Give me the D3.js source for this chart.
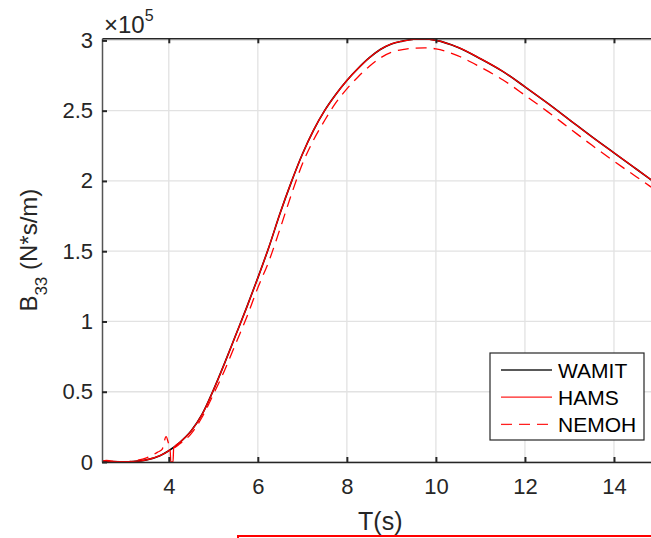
<!DOCTYPE html>
<html>
<head>
<meta charset="utf-8">
<script src="https://cdn.jsdelivr.net/npm/d3@7"></script>
<style>
  body { margin: 0; background: #fff; }
  svg { display: block; font-family: 'Liberation Sans', Arial, sans-serif; }
</style>
</head>
<body>
<div id="chart"></div>
<script>
// Period (s) and damping B33 (N*s/m)
const wamitT = [2.5, 3.0, 3.2, 3.5, 3.8, 4.0, 4.25, 4.5, 4.75, 5.0, 5.25, 5.5, 5.75, 6.0, 6.25, 6.5, 6.75, 7.0, 7.25, 7.5, 7.75, 8.0, 8.25, 8.5, 8.75, 9.0, 9.25, 9.5, 9.75, 10, 10.5, 11, 11.5, 12, 12.5, 13, 13.5, 14, 14.5, 15];
const wamitB = [0.005, 0.002, 0.004, 0.015, 0.045, 0.08, 0.14, 0.22, 0.34, 0.51, 0.70, 0.90, 1.10, 1.31, 1.53, 1.77, 1.99, 2.19, 2.36, 2.50, 2.615, 2.715, 2.80, 2.875, 2.935, 2.975, 2.995, 3.008, 3.01, 3.0, 2.95, 2.87, 2.78, 2.67, 2.555, 2.435, 2.315, 2.20, 2.085, 1.97];

const hamsT = [2.5, 2.6, 2.7, 3.0, 3.2, 3.5, 3.8, 4.0, 4.03, 4.045, 4.095, 4.11, 4.25, 4.5, 4.75, 5.0, 5.25, 5.5, 5.75, 6.0, 6.25, 6.5, 6.75, 7.0, 7.25, 7.5, 7.75, 8.0, 8.25, 8.5, 8.75, 9.0, 9.25, 9.5, 9.75, 10, 10.5, 11, 11.5, 12, 12.5, 13, 13.5, 14, 14.5, 15];
const hamsB = [0.008, 0.012, 0.006, 0.002, 0.004, 0.015, 0.045, 0.08, 0.088, 0.0, 0.0, 0.10, 0.14, 0.22, 0.34, 0.51, 0.70, 0.90, 1.10, 1.31, 1.53, 1.77, 1.99, 2.19, 2.36, 2.50, 2.615, 2.715, 2.80, 2.875, 2.935, 2.975, 2.995, 3.008, 3.01, 3.0, 2.95, 2.87, 2.78, 2.67, 2.555, 2.435, 2.315, 2.20, 2.085, 1.97];

const nemohT = [2.5, 2.75, 3.0, 3.25, 3.5, 3.75, 3.85, 3.94, 4.0, 4.1, 4.25, 4.5, 4.75, 5.0, 5.25, 5.5, 5.75, 6.0, 6.25, 6.5, 6.75, 7.0, 7.25, 7.5, 7.75, 8.0, 8.25, 8.5, 8.75, 9.0, 9.25, 9.5, 9.75, 10, 10.5, 11, 11.5, 12, 12.5, 13, 13.5, 14, 14.5, 15];
const nemohB = [0.008, 0.004, 0.0, 0.01, 0.03, 0.07, 0.09, 0.18, 0.13, 0.10, 0.13, 0.20, 0.32, 0.48, 0.65, 0.84, 1.03, 1.24, 1.43, 1.66, 1.90, 2.12, 2.29, 2.43, 2.555, 2.655, 2.74, 2.815, 2.875, 2.915, 2.935, 2.945, 2.947, 2.94, 2.89, 2.81, 2.72, 2.61, 2.495, 2.375, 2.255, 2.14, 2.03, 1.92];

const xTicks = [4, 6, 8, 10, 12, 14];
const yTicks = [0, 0.5, 1, 1.5, 2, 2.5, 3];
const seriesNames = ['WAMIT', 'HAMS', 'NEMOH'];

const width = 651;
const height = 538;
const plot = { left: 102, right: 658.5, top: 38.3, bottom: 462 };
const axisColor = '#262626';

const svg = d3
  .select('#chart')
  .append('svg')
  .attr('width', width)
  .attr('height', height);

// Scales
let x = d3.scaleLinear().domain([2.5, 15]).range([plot.left, plot.right]);
let y = d3.scaleLinear().domain([0, 3.015e5]).range([plot.bottom, plot.top]);

// Grid
let grid = svg.append('g').attr('class', 'grid');
grid
  .selectAll('.vgrid')
  .data(xTicks)
  .enter()
  .append('line')
  .attr('x1', (d) => x(d))
  .attr('x2', (d) => x(d))
  .attr('y1', plot.top)
  .attr('y2', plot.bottom)
  .attr('stroke', '#e2e2e2')
  .attr('stroke-width', 1.3);
grid
  .selectAll('.hgrid')
  .data(yTicks)
  .enter()
  .append('line')
  .attr('x1', plot.left)
  .attr('x2', plot.right)
  .attr('y1', (d) => y(d * 1e5))
  .attr('y2', (d) => y(d * 1e5))
  .attr('stroke', '#e2e2e2')
  .attr('stroke-width', 1.3);

// Lines
let line = d3
  .line()
  .x((d) => x(d[0]))
  .y((d) => y(d[1] * 1e5))
  .curve(d3.curveMonotoneX);

const zip = (a, b) => a.map((t, i) => [t, b[i]]);

svg
  .append('path')
  .attr('d', line(zip(wamitT, wamitB)))
  .attr('fill', 'none')
  .attr('stroke', '#000')
  .attr('stroke-width', 1.6);

svg
  .append('path')
  .attr('d', line(zip(nemohT, nemohB)))
  .attr('fill', 'none')
  .attr('stroke', '#ff0000')
  .attr('stroke-width', 1.3)
  .attr('stroke-dasharray', '11,7');

svg
  .append('path')
  .attr('d', line(zip(hamsT, hamsB)))
  .attr('fill', 'none')
  .attr('stroke', '#ff0000')
  .attr('stroke-width', 1.3);

// Axes (ticks point inward, like MATLAB)
let yAxis = svg
  .append('g')
  .attr('transform', `translate(${plot.left},0)`)
  .call(
    d3
      .axisLeft(y)
      .tickValues(yTicks.map((d) => d * 1e5))
      .tickFormat((d) => String(d / 1e5))
      .tickSizeInner(-5)
      .tickSizeOuter(0)
      .tickPadding(9)
  );

let xAxis = svg
  .append('g')
  .attr('transform', `translate(0,${plot.bottom})`)
  .call(
    d3
      .axisBottom(x)
      .tickValues(xTicks)
      .tickSizeInner(-5)
      .tickSizeOuter(0)
      .tickPadding(16)
  );

let topAxis = svg
  .append('g')
  .attr('transform', `translate(0,${plot.top})`)
  .call(
    d3
      .axisTop(x)
      .tickValues(xTicks)
      .tickFormat('')
      .tickSizeInner(-5)
      .tickSizeOuter(0)
  );

[xAxis, yAxis, topAxis].forEach((ax) => {
  ax.select('.domain').attr('stroke', axisColor).attr('stroke-width', 1.5);
  ax.selectAll('.tick line').attr('stroke', axisColor).attr('stroke-width', 2);
  ax.selectAll('.tick text')
    .attr('fill', axisColor)
    .style('font-size', '22px')
    .style('font-family', "'Liberation Sans', Arial, sans-serif");
});
yAxis.select('.domain').attr('stroke', '#555');

// Exponent label
let expo = svg
  .append('text')
  .attr('x', 104)
  .attr('y', 33)
  .attr('fill', axisColor)
  .style('font-size', '24px');
expo.append('tspan').text('\u00d710');
expo.append('tspan').attr('dy', -12).style('font-size', '16px').text('5');

// Axis labels
svg
  .append('text')
  .attr('x', (plot.left + plot.right) / 2)
  .attr('y', 530)
  .attr('text-anchor', 'middle')
  .attr('fill', axisColor)
  .style('font-size', '25px')
  .text('T(s)');

let yLabel = svg
  .append('text')
  .attr('transform', `translate(37,${(plot.top + plot.bottom) / 2}) rotate(-90)`)
  .attr('text-anchor', 'middle')
  .attr('fill', axisColor)
  .style('font-size', '24px');
yLabel.append('tspan').text('B');
yLabel.append('tspan').attr('dy', 10).style('font-size', '17px').text('33');
yLabel.append('tspan').attr('dy', -10).text(' (N*s/m)');

// Legend
let legend = svg.append('g').attr('transform', 'translate(490,353)');
legend
  .append('rect')
  .attr('width', 154)
  .attr('height', 87)
  .attr('fill', '#fff')
  .attr('stroke', axisColor)
  .attr('stroke-width', 1.2);

let legendStyles = [
  { color: '#222', dash: null },
  { color: '#ff2020', dash: null },
  { color: '#ff2020', dash: '11,7' }
];

seriesNames.forEach((name, i) => {
  let row = legend.append('g').attr('transform', `translate(0,${17 + i * 27.2})`);
  row
    .append('line')
    .attr('x1', 11)
    .attr('x2', 62)
    .attr('stroke', legendStyles[i].color)
    .attr('stroke-width', 1.3)
    .attr('stroke-dasharray', legendStyles[i].dash);
  row
    .append('text')
    .attr('x', 68)
    .attr('y', 7.5)
    .attr('fill', '#000')
    .style('font-size', '21px')
    .text(name);
});

// Red selection box cut off at the bottom of the figure
svg
  .append('rect')
  .attr('x', 238)
  .attr('y', 536)
  .attr('width', 500)
  .attr('height', 60)
  .attr('fill', 'none')
  .attr('stroke', '#ff0000')
  .attr('stroke-width', 2);
</script>
</body>
</html>
